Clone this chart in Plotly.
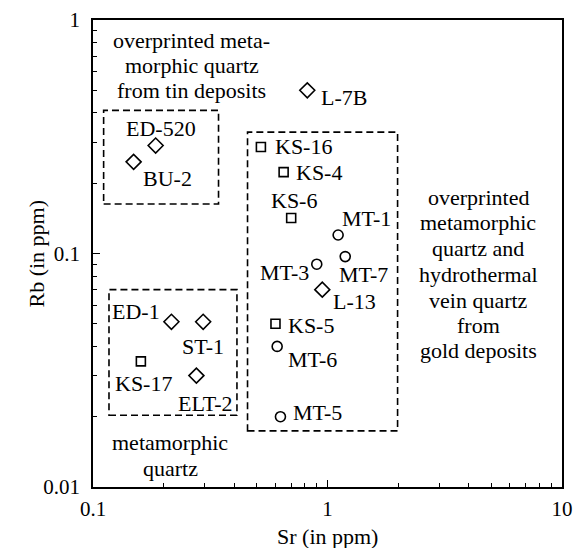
import math
import plotly.graph_objects as go

# ---- data ----
diamond_names = ["L-7B", "ED-520", "BU-2", "L-13", "ED-1", "ST-1", "ELT-2"]
diamond_sr = [0.82, 0.185, 0.149, 0.95, 0.216, 0.295, 0.276]
diamond_rb = [0.50, 0.29, 0.247, 0.070, 0.051, 0.051, 0.030]

square_names = ["KS-16", "KS-4", "KS-6", "KS-5", "KS-17"]
square_sr = [0.52, 0.65, 0.70, 0.60, 0.160]
square_rb = [0.286, 0.223, 0.142, 0.050, 0.0345]

circle_names = ["MT-1", "MT-3", "MT-7", "MT-6", "MT-5"]
circle_sr = [1.11, 0.90, 1.19, 0.61, 0.63]
circle_rb = [0.120, 0.090, 0.097, 0.040, 0.020]

x_ticks = [0.1, 1, 10]
y_ticks = [0.01, 0.1, 1]

# field boxes (Sr min, Sr max, Rb min, Rb max)
box_tin = (0.111, 0.343, 0.163, 0.41)
box_meta = (0.117, 0.411, 0.0203, 0.070)
box_gold = (0.456, 1.99, 0.0174, 0.331)

# ---- styling ----
FONT = "Liberation Serif"
FS = 22
BLACK = "black"

# label offsets in px: (xshift, yshift, xanchor)
label_style = {
    "L-7B": (12, -7, "left"),
    "ED-520": (5, 17, "center"),
    "BU-2": (7, -17, "left"),
    "KS-16": (12, 0, "left"),
    "KS-4": (10, 0, "left"),
    "KS-6": (3, 17, "center"),
    "MT-1": (2, 17, "left"),
    "MT-3": (-6, -8, "right"),
    "MT-7": (-8, -18, "left"),
    "L-13": (9, -12, "left"),
    "KS-5": (11, -2, "left"),
    "MT-6": (9, -13, "left"),
    "MT-5": (11, 4, "left"),
    "ED-1": (-9, 10, "right"),
    "ST-1": (0, -25, "center"),
    "KS-17": (3, -22, "center"),
    "ELT-2": (9, -28, "center"),
}

fig = go.Figure()

def add_series(xs, ys, symbol, size):
    fig.add_trace(go.Scatter(
        x=xs, y=ys, mode="markers",
        marker=dict(symbol=symbol, size=size, color=BLACK,
                    line=dict(color=BLACK, width=1.6)),
        showlegend=False, hoverinfo="skip"))

add_series(diamond_sr, diamond_rb, "diamond-open", 11.5)
add_series(square_sr, square_rb, "square-open", 9)
add_series(circle_sr, circle_rb, "circle-open", 10)

annotations = []
for names, xs, ys in [(diamond_names, diamond_sr, diamond_rb),
                      (square_names, square_sr, square_rb),
                      (circle_names, circle_sr, circle_rb)]:
    for n, xv, yv in zip(names, xs, ys):
        dx, dy, xa = label_style[n]
        annotations.append(dict(
            x=math.log10(xv), y=math.log10(yv), xref="x", yref="y",
            text=n, showarrow=False, xanchor=xa, yanchor="middle",
            xshift=dx, yshift=dy, font=dict(family=FONT, size=FS, color=BLACK)))

shapes = []
for (x0, x1, y0, y1) in [box_tin, box_meta, box_gold]:
    shapes.append(dict(type="rect", xref="x", yref="y",
                       x0=x0, x1=x1, y0=y0, y1=y1,
                       line=dict(color=BLACK, width=1.6, dash="7px,4px"),
                       fillcolor="rgba(0,0,0,0)"))

W, H = 575, 548
L, R, T, B = 93, 13, 20, 61
PW, PH = W - L - R, H - T - B

def px_to_paper(px, py):
    return (px - L) / PW, 1 - (py - T) / PH

def add_lines(lines, cx, ys):
    for line, py in zip(lines, ys):
        xp, yp = px_to_paper(cx, py)
        annotations.append(dict(
            x=xp, y=yp, xref="paper", yref="paper", text=line,
            showarrow=False, xanchor="center", yanchor="middle",
            font=dict(family=FONT, size=FS, color=BLACK)))

add_lines(["overprinted meta-", "morphic quartz", "from tin deposits"],
          191.5, [40, 65, 90])
add_lines(["overprinted", "metamorphic", "quartz and", "hydrothermal",
           "vein quartz", "from", "gold deposits"],
          478, [197, 222.5, 248, 274, 300, 325, 350.5])
add_lines(["metamorphic", "quartz"], 170, [442.5, 468])

# axis titles
annotations.append(dict(x=0.5, y=0, xref="paper", yref="paper",
                        text="Sr (in ppm)", showarrow=False,
                        xanchor="center", yanchor="middle", yshift=-49,
                        font=dict(family=FONT, size=FS, color=BLACK)))
annotations.append(dict(x=0, y=0.5, xref="paper", yref="paper",
                        text="Rb (in ppm)", showarrow=False, textangle=-90,
                        xanchor="center", yanchor="middle", xshift=-57,
                        font=dict(family=FONT, size=FS, color=BLACK)))

minor_x = [d * 10 ** e for e in (-1, 0) for d in range(2, 10)]
minor_y = [d * 10 ** e for e in (-2, -1) for d in range(2, 10)]

axis_common = dict(
    type="log", showgrid=False, zeroline=False,
    showline=True, linecolor=BLACK, linewidth=1.6, mirror=True,
    ticks="inside", ticklen=7, tickwidth=1.2, tickcolor=BLACK,
    tickfont=dict(family=FONT, size=21, color=BLACK),
)

fig.update_layout(
    width=W, height=H,
    margin=dict(l=L, r=R, t=T, b=B, autoexpand=False),
    paper_bgcolor="white", plot_bgcolor="white",
    font=dict(family=FONT, color=BLACK),
    xaxis=dict(range=[-1, 1], tickvals=x_ticks, ticktext=["0.1", "1", "10"],
               minor=dict(tickvals=minor_x, ticks="inside", ticklen=4,
                          tickwidth=1, tickcolor=BLACK),
               ticklabelstandoff=2, **axis_common),
    yaxis=dict(range=[-2, 0], tickvals=y_ticks, ticktext=["0.01", "0.1", "1"],
               minor=dict(tickvals=minor_y, ticks="inside", ticklen=4,
                          tickwidth=1, tickcolor=BLACK),
               ticklabelstandoff=7, **axis_common),
    shapes=shapes, annotations=annotations,
)

fig.write_html("out.html", config={"displayModeBar": False},
               post_script="document.body.style.margin='0';")
